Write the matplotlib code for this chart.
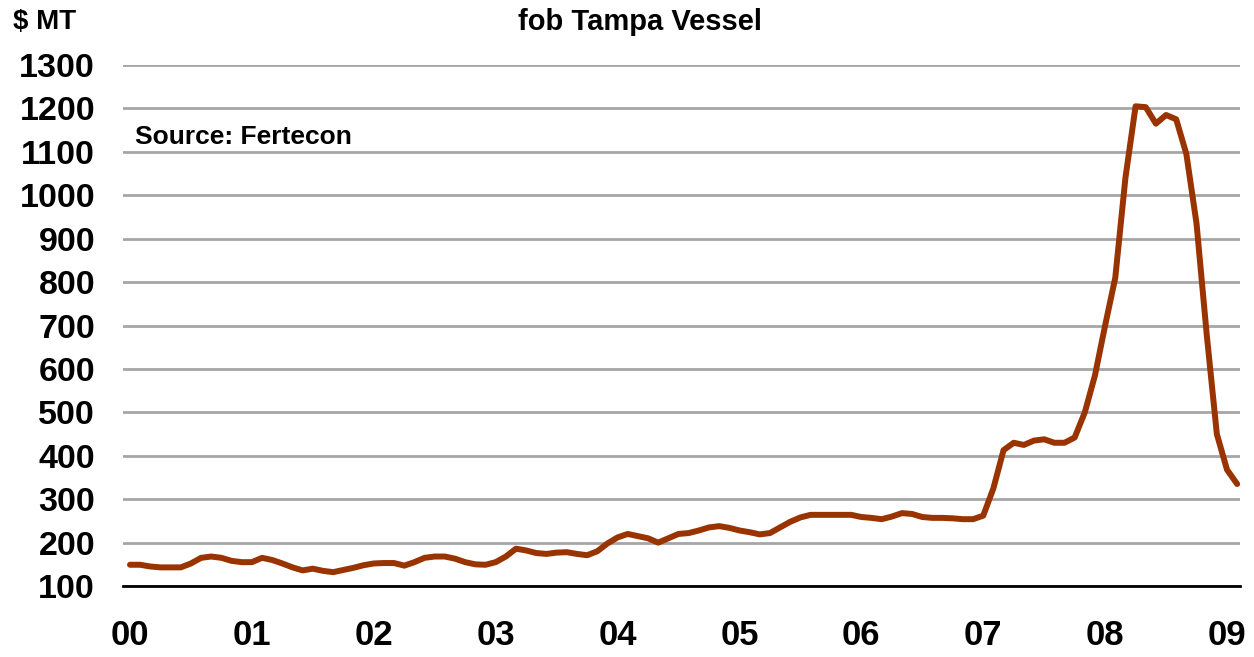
import matplotlib.pyplot as plt

# monthly fob Tampa vessel price, Jan 2000 - Feb 2009 ($/MT)
prices = [
    149, 149, 145, 143, 143, 143, 152, 165, 168, 165, 158, 155,   # 2000
    155, 165, 160, 152, 143, 136, 140, 135, 132, 137, 142, 148,   # 2001
    152, 153, 153, 147, 155, 165, 168, 168, 163, 155, 150, 149,   # 2002
    155, 168, 186, 182, 176, 174, 177, 178, 174, 171, 180, 198,   # 2003
    212, 220, 215, 210, 200, 210, 220, 222, 228, 235, 238, 234,   # 2004
    228, 224, 219, 222, 235, 248, 258, 264, 264, 264, 264, 264,   # 2005
    259, 257, 254, 260, 268, 266, 259, 257, 257, 256, 254, 254,   # 2006
    262, 325, 413, 430, 425, 435, 438, 430, 430, 442, 500, 585,   # 2007
    700, 810, 1040, 1205, 1203, 1165, 1185, 1175, 1095, 935, 680, 450,  # 2008
    368, 335,                                                     # 2009
]
months = list(range(len(prices)))
year_labels = ['00', '01', '02', '03', '04', '05', '06', '07', '08', '09']
y_ticks = list(range(100, 1301, 100))

plt.rcParams['font.family'] = ['Liberation Sans', 'DejaVu Sans']

fig = plt.figure(figsize=(12.54, 6.57), dpi=100)
ax = fig.add_axes([0.098, 0.108, 0.891, 0.793])

ax.plot(months, prices, color='#993300', linewidth=4.3, solid_capstyle='round',
        solid_joinstyle='round', zorder=3)

ax.set_ylim(100, 1300)
ax.set_xlim(-0.7, 109.3)
ax.set_yticks(y_ticks)
ax.set_yticklabels([str(v) for v in y_ticks], fontsize=24.5, fontweight='bold')
ax.set_xticks([12 * i for i in range(len(year_labels))])
ax.set_xticklabels(year_labels, fontsize=25, fontweight='bold')
ax.tick_params(axis='both', length=0)
ax.tick_params(axis='y', pad=20)
ax.tick_params(axis='x', pad=24)

ax.grid(axis='y', color='#a6a6a6', linewidth=2, zorder=0)
ax.set_axisbelow(True)
for side in ['left', 'right', 'top']:
    ax.spines[side].set_visible(False)
ax.spines['bottom'].set_color('black')
ax.spines['bottom'].set_linewidth(2)

fig.text(0.010, 0.966, '$ MT', fontsize=20, fontweight='bold', va='center')
fig.text(0.51, 0.966, 'fob Tampa Vessel', fontsize=21, fontweight='bold',
         va='center', ha='center')
ax.text(0.011, 0.862, 'Source: Fertecon', transform=ax.transAxes, fontsize=19,
        fontweight='bold', va='center')

fig.savefig('out.png', dpi=100, facecolor='white')
